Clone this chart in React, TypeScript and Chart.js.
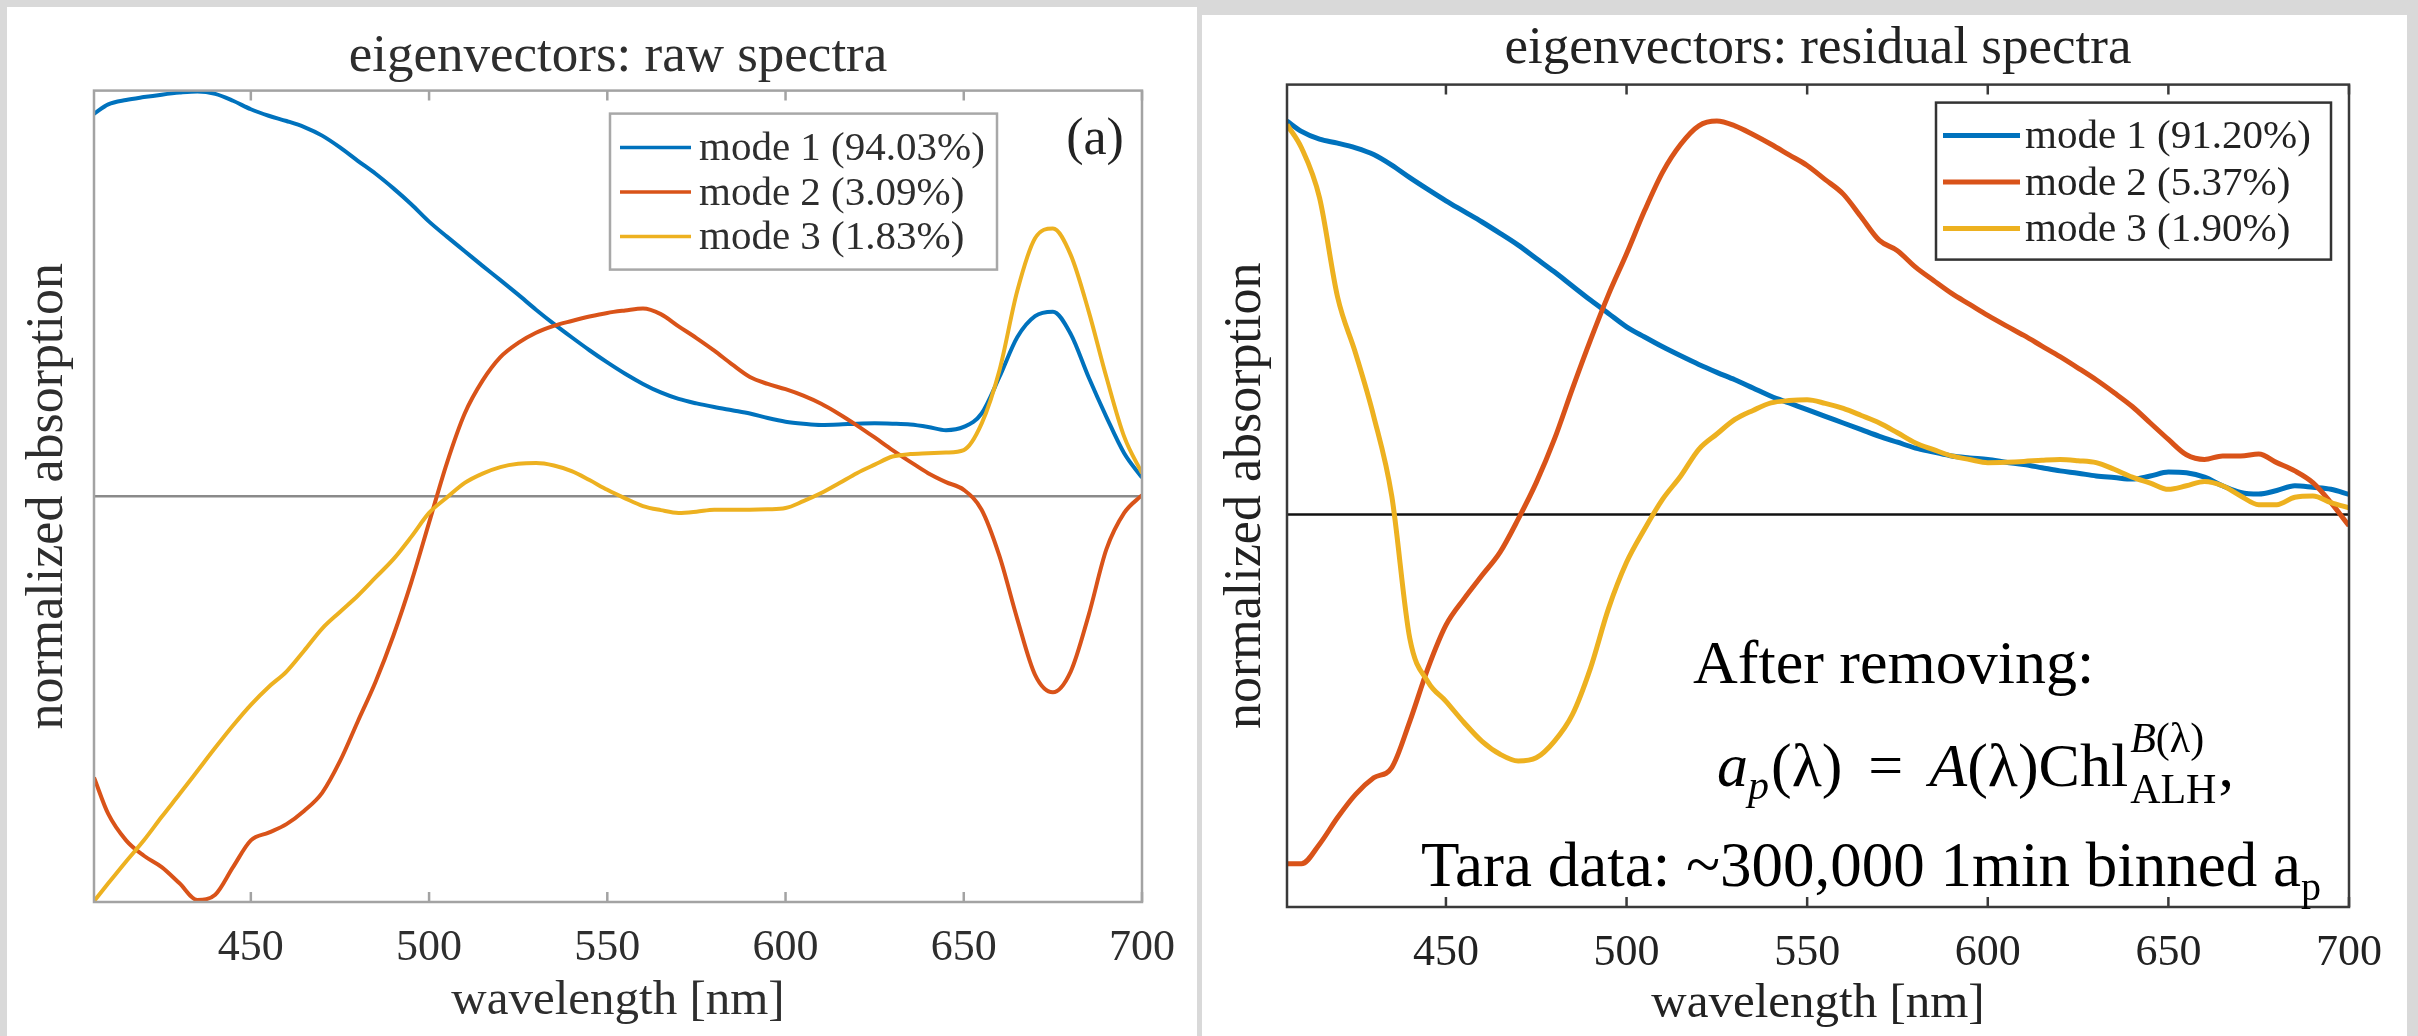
import React, { useEffect, useRef } from "react";
import { Chart, registerables } from "chart.js";

Chart.register(...registerables);

// ---------- data ----------
const WAVELENGTHS = [
  406, 410, 415, 420, 425, 430, 435, 440, 445, 450,
  455, 460, 465, 470, 475, 480, 485, 490, 495, 500,
  505, 510, 515, 520, 525, 530, 535, 540, 545, 550,
  555, 560, 565, 570, 575, 580, 585, 590, 595, 600,
  605, 610, 615, 620, 625, 630, 635, 640, 645, 650,
  655, 660, 665, 670, 675, 680, 685, 690, 695, 700,
];
const X_TICKS = [450, 500, 550, 600, 650, 700];

const RAW_MODE1 = [
  0.943, 0.966, 0.977, 0.984, 0.99, 0.995, 0.998, 0.992, 0.975, 0.954,
  0.938, 0.925, 0.91, 0.889, 0.86, 0.827, 0.795, 0.759, 0.72, 0.677,
  0.64, 0.604, 0.568, 0.533, 0.497, 0.46, 0.425, 0.392, 0.36, 0.33,
  0.302, 0.277, 0.256, 0.24, 0.229, 0.22, 0.212, 0.204, 0.193, 0.184,
  0.179, 0.176, 0.177, 0.179, 0.18, 0.179, 0.177, 0.171, 0.163, 0.171,
  0.204, 0.294, 0.392, 0.444, 0.455, 0.4, 0.294, 0.196, 0.106, 0.046,
];
const RAW_MODE2 = [
  -0.693, -0.783, -0.848, -0.886, -0.914, -0.954, -0.995, -0.982, -0.914, -0.848,
  -0.829, -0.808, -0.775, -0.731, -0.653, -0.555, -0.457, -0.343, -0.212, -0.065,
  0.082, 0.204, 0.285, 0.343, 0.378, 0.403, 0.42, 0.432, 0.443, 0.452,
  0.458, 0.463, 0.449, 0.419, 0.39, 0.359, 0.325, 0.294, 0.277, 0.264,
  0.248, 0.228, 0.203, 0.175, 0.145, 0.114, 0.085, 0.057, 0.035, 0.016,
  -0.033, -0.147, -0.302, -0.44, -0.483, -0.432, -0.294, -0.131, -0.041, 0.003,
];
const RAW_MODE3 = [
  -0.998, -0.954, -0.9, -0.848, -0.79, -0.734, -0.677, -0.62, -0.565, -0.514,
  -0.47, -0.432, -0.38, -0.326, -0.285, -0.245, -0.2, -0.155, -0.1, -0.041,
  -0.003, 0.033, 0.056, 0.072, 0.08, 0.082, 0.076, 0.062, 0.04, 0.016,
  -0.005, -0.024, -0.034, -0.041, -0.038, -0.033, -0.033, -0.033, -0.032, -0.029,
  -0.012, 0.008, 0.032, 0.057, 0.078, 0.098, 0.104, 0.106, 0.108, 0.114,
  0.179, 0.31, 0.506, 0.636, 0.66, 0.595, 0.457, 0.294, 0.147, 0.057,
];

const RES_MODE1 = [
  1.002, 0.976, 0.956, 0.946, 0.934, 0.917, 0.89, 0.858, 0.828, 0.799,
  0.772, 0.745, 0.716, 0.686, 0.652, 0.618, 0.582, 0.546, 0.512, 0.478,
  0.452, 0.427, 0.404, 0.382, 0.362, 0.343, 0.322, 0.301, 0.284, 0.267,
  0.25, 0.233, 0.216, 0.199, 0.184, 0.169, 0.159, 0.149, 0.144, 0.14,
  0.133, 0.127, 0.119, 0.111, 0.105, 0.098, 0.094, 0.09, 0.098, 0.108,
  0.106, 0.095, 0.073, 0.056, 0.052, 0.061, 0.073, 0.069, 0.064, 0.051,
];
const RES_MODE2 = [
  -0.89, -0.89, -0.84, -0.772, -0.713, -0.671, -0.645, -0.527, -0.392, -0.282,
  -0.215, -0.155, -0.096, -0.012, 0.081, 0.191, 0.32, 0.444, 0.56, 0.664,
  0.774, 0.872, 0.943, 0.99, 1.002, 0.99, 0.968, 0.943, 0.916, 0.889,
  0.853, 0.816, 0.757, 0.698, 0.672, 0.63, 0.596, 0.563, 0.535, 0.507,
  0.481, 0.456, 0.429, 0.402, 0.373, 0.343, 0.31, 0.275, 0.233, 0.191,
  0.152, 0.14, 0.149, 0.149, 0.154, 0.132, 0.111, 0.081, 0.03, -0.029,
];
const RES_MODE3 = [
  0.993, 0.934, 0.807, 0.554, 0.41, 0.25, 0.047, -0.316, -0.426, -0.476,
  -0.53, -0.578, -0.611, -0.628, -0.62, -0.578, -0.51, -0.392, -0.24, -0.122,
  -0.037, 0.039, 0.098, 0.166, 0.205, 0.242, 0.265, 0.284, 0.29, 0.292,
  0.283, 0.27, 0.252, 0.233, 0.208, 0.182, 0.165, 0.149, 0.14, 0.132,
  0.133, 0.135, 0.138, 0.14, 0.137, 0.132, 0.115, 0.095, 0.08, 0.064,
  0.073, 0.084, 0.073, 0.047, 0.025, 0.025, 0.044, 0.047, 0.03, 0.017,
];

const RAW_LABELS = ["mode 1 (94.03%)", "mode 2 (3.09%)", "mode 3 (1.83%)"];
const RES_LABELS = ["mode 1 (91.20%)", "mode 2 (5.37%)", "mode 3 (1.90%)"];
const COLORS = ["#0072BD", "#D95319", "#EDB120"];

const SERIF = '"Liberation Serif", "Times New Roman", serif';

// ---------- plugins ----------
const framePlugin: any = {
  id: "frame",
  beforeDatasetsDraw(chart: any, _a: any, o: any) {
    const { ctx, chartArea: a, scales } = chart;
    const y0 = scales.y.getPixelForValue(0);
    ctx.save();
    ctx.strokeStyle = o.zeroColor;
    ctx.lineWidth = o.zeroWidth;
    ctx.beginPath();
    ctx.moveTo(a.left, y0);
    ctx.lineTo(a.right, y0);
    ctx.stroke();
    ctx.restore();
  },
  afterDatasetsDraw(chart: any, _a: any, o: any) {
    const { ctx, chartArea: a, scales } = chart;
    ctx.save();
    ctx.strokeStyle = o.color;
    ctx.lineWidth = o.width;
    ctx.beginPath();
    for (const t of scales.x.ticks) {
      const px = scales.x.getPixelForValue(t.value);
      ctx.moveTo(px, a.bottom);
      ctx.lineTo(px, a.bottom - o.tickLen);
      ctx.moveTo(px, a.top);
      ctx.lineTo(px, a.top + o.tickLen);
    }
    ctx.stroke();
    ctx.strokeRect(a.left, a.top, a.right - a.left, a.bottom - a.top);
    ctx.restore();
  },
};

const boxLegendPlugin: any = {
  id: "boxLegend",
  afterDraw(chart: any, _a: any, o: any) {
    const { ctx, chartArea: a } = chart;
    const x0 = a.right - o.marginRight - o.width;
    const y0 = a.top + o.marginTop;
    ctx.save();
    ctx.fillStyle = "#ffffff";
    ctx.fillRect(x0, y0, o.width, o.height);
    ctx.strokeStyle = o.borderColor;
    ctx.lineWidth = o.borderWidth;
    ctx.strokeRect(x0, y0, o.width, o.height);
    ctx.font = `${o.fontSize}px ${SERIF}`;
    ctx.textBaseline = "middle";
    ctx.textAlign = "left";
    chart.data.datasets.forEach((ds: any, i: number) => {
      const cy = y0 + o.firstRow + i * o.rowGap;
      ctx.strokeStyle = ds.borderColor;
      ctx.lineWidth = o.lineWidth;
      ctx.beginPath();
      ctx.moveTo(x0 + o.lineStart, cy);
      ctx.lineTo(x0 + o.lineStart + o.lineLen, cy);
      ctx.stroke();
      ctx.fillStyle = o.textColor;
      ctx.fillText(ds.label, x0 + o.textStart, cy + 2);
    });
    ctx.restore();
  },
};

const tagPlugin: any = {
  id: "tag",
  afterDraw(chart: any, _a: any, o: any) {
    if (!o.text) return;
    const { ctx, chartArea: a } = chart;
    ctx.save();
    ctx.font = `${o.fontSize}px ${SERIF}`;
    ctx.fillStyle = o.color;
    ctx.textAlign = "center";
    ctx.textBaseline = "alphabetic";
    ctx.fillText(o.text, a.left + o.dx, a.top + o.dy);
    ctx.restore();
  },
};

const notePlugin: any = {
  id: "note",
  afterDraw(chart: any, _a: any, o: any) {
    if (!o.show) return;
    const { ctx, chartArea: a } = chart;
    ctx.save();
    ctx.fillStyle = "#000";
    ctx.textBaseline = "alphabetic";
    ctx.textAlign = "left";
    const big = (st = "") => `${st} 62px ${SERIF}`;
    const small = (st = "") => `${st} 42px ${SERIF}`;
    const put = (txt: string, font: string, x: number, y: number) => {
      ctx.font = font;
      ctx.fillText(txt, x, y);
      return ctx.measureText(txt).width;
    };
    // line 1
    put("After removing:", big(), a.left + 406, a.top + 598);
    // formula
    let x = a.left + 430;
    const y = a.top + 701;
    x += put("a", big("italic"), x, y);
    x += put("p", small("italic"), x, y + 13) + 2;
    x += put("(λ)", big(), x, y);
    x += 26;
    x += put("=", big(), x, y);
    x += 26;
    x += put("A", big("italic"), x, y);
    x += put("(λ)Chl", big(), x, y);
    x += 2;
    let w1 = put("B", small("italic"), x, y - 34);
    w1 += put("(λ)", small(), x + w1, y - 34);
    const w2 = put("ALH", small(), x, y + 17);
    x += Math.max(w1, w2) + 2;
    put(",", big(), x, y);
    // line 3
    let x3 = a.left + 134;
    const y3 = a.top + 801;
    x3 += put("Tara data: ~300,000 1min binned a", `63px ${SERIF}`, x3, y3);
    put("p", `40px ${SERIF}`, x3, y3 + 14);
    ctx.restore();
  },
};

// ---------- panel specs ----------
const RAW_PANEL = {
  left: 7, top: 7, width: 1190, height: 1029,
  title: "eigenvectors: raw spectra",
  labels: RAW_LABELS,
  series: [RAW_MODE1, RAW_MODE2, RAW_MODE3],
  yMin: -1, yMax: 1,
  lineWidth: 4,
  padRight: 55,
  titlePad: { top: 18, bottom: 2 },
  yWidth: 87, yTitlePad: 10,
  xHeight: 134, xTitlePadBottom: 5,
  textColor: "#2e2e2e",
  axisColor: "#a3a3a3", axisWidth: 2.5,
  zeroColor: "#8a8a8a", zeroWidth: 2.5,
  legend: { marginRight: 145, marginTop: 23, width: 387, height: 156, firstRow: 34, rowGap: 44.5, lineStart: 10, lineLen: 71, textStart: 89, fontSize: 41, lineWidth: 3.5, borderColor: "#a8a8a8", borderWidth: 2.5, textColor: "#2e2e2e" },
  tag: { text: "(a)", fontSize: 52, dx: 1001, dy: 63, color: "#222222" },
  note: { show: false },
};

const RES_PANEL = {
  left: 1202, top: 15, width: 1205, height: 1021,
  title: "eigenvectors: residual spectra",
  labels: RES_LABELS,
  series: [RES_MODE1, RES_MODE2, RES_MODE3],
  yMin: -1, yMax: 1.095,
  lineWidth: 5,
  padRight: 58,
  titlePad: { top: 2, bottom: 4 },
  yWidth: 85, yTitlePad: 13,
  xHeight: 129, xTitlePadBottom: 2,
  textColor: "#222222",
  axisColor: "#3a3a3a", axisWidth: 2.5,
  zeroColor: "#111111", zeroWidth: 2.5,
  legend: { marginRight: 18, marginTop: 18, width: 395, height: 157, firstRow: 33, rowGap: 46.5, lineStart: 7, lineLen: 77, textStart: 89, fontSize: 41, lineWidth: 5, borderColor: "#333333", borderWidth: 2.5, textColor: "#222222" },
  tag: { text: "" },
  note: { show: true },
};

function buildConfig(p: any): any {
  return {
    type: "line",
    data: {
      datasets: p.series.map((vals: number[], i: number) => ({
        label: p.labels[i],
        data: WAVELENGTHS.map((nm, k) => ({ x: nm, y: vals[k] })),
        borderColor: COLORS[i],
        backgroundColor: COLORS[i],
        borderWidth: p.lineWidth,
        pointRadius: 0,
        cubicInterpolationMode: "monotone",
        fill: false,
        order: p.series.length - i,
      })),
    },
    options: {
      responsive: false,
      animation: false,
      devicePixelRatio: 1,
      events: [],
      layout: { padding: { left: 0, right: p.padRight, top: 0, bottom: 0 } },
      plugins: {
        legend: { display: false },
        tooltip: { enabled: false },
        title: {
          display: true,
          fullSize: false,
          text: p.title,
          color: p.textColor,
          font: { family: SERIF, size: 53, weight: "normal" },
          padding: p.titlePad,
        },
        frame: { color: p.axisColor, width: p.axisWidth, tickLen: 10, zeroColor: p.zeroColor, zeroWidth: p.zeroWidth },
        boxLegend: p.legend,
        tag: p.tag,
        note: p.note,
      },
      scales: {
        x: {
          type: "linear",
          min: WAVELENGTHS[0],
          max: WAVELENGTHS[WAVELENGTHS.length - 1],
          afterBuildTicks: (s: any) => {
            s.ticks = X_TICKS.map((v) => ({ value: v }));
          },
          afterFit: (s: any) => {
            s.height = p.xHeight;
          },
          grid: { display: false },
          border: { display: false },
          ticks: {
            color: p.textColor,
            font: { family: SERIF, size: 44 },
            padding: 12,
            maxRotation: 0,
            autoSkip: false,
            callback: (v: any) => String(v),
          },
          title: {
            display: true,
            text: "wavelength [nm]",
            color: p.textColor,
            font: { family: SERIF, size: 49 },
            padding: { top: 0, bottom: p.xTitlePadBottom },
          },
        },
        y: {
          type: "linear",
          min: p.yMin,
          max: p.yMax,
          afterFit: (s: any) => {
            s.width = p.yWidth;
          },
          grid: { display: false },
          border: { display: false },
          ticks: { display: false },
          title: {
            display: true,
            text: "normalized absorption",
            color: p.textColor,
            font: { family: SERIF, size: 52 },
            padding: { top: p.yTitlePad, bottom: 0 },
          },
        },
      },
    },
    plugins: [framePlugin, boxLegendPlugin, tagPlugin, notePlugin],
  };
}

function ChartPanel({ spec }: { spec: any }) {
  const ref = useRef<HTMLCanvasElement | null>(null);
  useEffect(() => {
    if (!ref.current) return;
    const chart = new Chart(ref.current, buildConfig(spec));
    return () => chart.destroy();
  }, [spec]);
  return (
    <div
      style={{
        position: "absolute",
        left: spec.left,
        top: spec.top,
        width: spec.width,
        height: spec.height,
        background: "#ffffff",
      }}
    >
      <canvas
        ref={ref}
        width={spec.width}
        height={spec.height}
        style={{ display: "block", width: spec.width, height: spec.height }}
      />
    </div>
  );
}

export default function App() {
  return (
    <div
      style={{
        position: "absolute",
        left: 0,
        top: 0,
        width: 2418,
        height: 1036,
        overflow: "hidden",
        background: "#d9d9d9",
      }}
    >
      <ChartPanel spec={RAW_PANEL} />
      <ChartPanel spec={RES_PANEL} />
    </div>
  );
}
